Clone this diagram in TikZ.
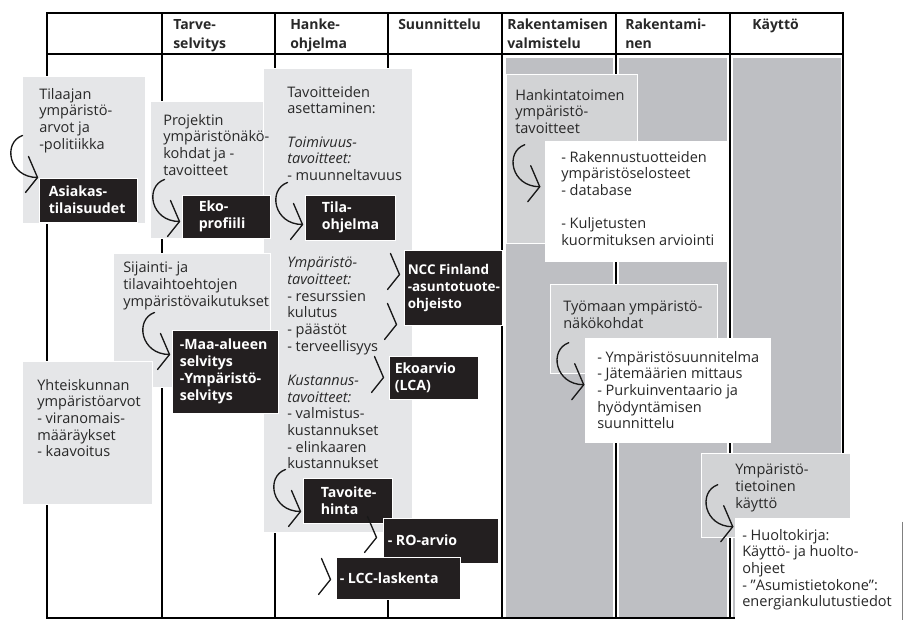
\documentclass[tikz,border=0pt]{standalone}
\usepackage{fontspec}
\setmainfont{Open Sans}
\usetikzlibrary{fit,calc}
\definecolor{colgray}{RGB}{190,191,195}
\definecolor{lgray}{RGB}{229,230,232}
\definecolor{mgray}{RGB}{210,211,213}
\definecolor{bfill}{RGB}{35,31,32}
\definecolor{txtc}{RGB}{40,40,40}
\tikzset{
 boxL/.style={fill=lgray, draw=white, line width=0.75pt, inner sep=0pt},
 boxM/.style={fill=mgray, draw=white, line width=0.75pt, inner sep=0pt},
 boxW/.style={fill=white, draw=none, inner sep=0pt},
 boxB/.style={fill=bfill, draw=white, line width=0.75pt, inner sep=0pt},
 colfill/.style={fill=colgray, draw=none, inner sep=0pt},
 bodytxt/.style={inner sep=0pt, anchor=north west, align=left, text=txtc, font=\fontsize{10.9}{12.5}\selectfont},
 headtxt/.style={inner sep=0pt, anchor=north west, align=left, text=txtc, font=\bfseries\fontsize{10.5}{14.25}\selectfont},
 btxt/.style={inner sep=0pt, anchor=west, align=left, text=white, font=\bfseries\fontsize{10.6}{12.75}\selectfont},
 tline/.style={draw=black, line width=0.9pt},
 edgeln/.style={draw=black!50, line width=0.6pt},
 hookln/.style={draw=black!90, line width=1pt, line cap=round, line join=round},
 hookarrow/.pic={\draw[hookln] (-15,-42) .. controls (-35,-35) and (-29,0) .. (0,0);
                 \draw[hookln] (-9,-21) -- (0,0) -- (-12,15);},
 chev/.pic={\draw[hookln] (-9,-21) -- (0,0) -- (-12,15);},
}
\begin{document}
\begin{tikzpicture}[x=0.75pt,y=-0.75pt]
\useasboundingbox (0,0) rectangle (909,624);
% column fills
\node[colfill, fit={(506,58) (613,617)}] (c1) {};
\node[colfill, fit={(619,58) (727,617)}] (c2) {};
\node[colfill, fit={(733,58) (841,617)}] (c3) {};
% table
\draw[tline] (47,13) rectangle (843,618);
\draw[tline] (47,54) -- (843,54);
\foreach \x in {162,275,388,502,616,730} \draw[tline] (\x,13) -- (\x,618);
% headers
\node[headtxt] (h1) at (173,19) {Tarve-\\selvitys};
\node[headtxt] (h2) at (290,19) {Hanke-\\ohjelma};
\node[headtxt] (h3) at (398,19) {Suunnittelu};
\node[headtxt] (h4) at (507,19) {Rakentamisen\\valmistelu};
\node[headtxt] (h5) at (625,19) {Rakentami-\\nen};
\node[headtxt] (h6) at (752,19) {Käyttö};
% gray boxes
\node[boxL, fit={(22,77) (145,223)}] (tilaajaB) {};
\node[boxL, fit={(150,102) (275,238)}] (projB) {};
\node[boxL, fit={(263,69) (412,532)}] (tavB) {};
\node[boxL, fit={(113,253) (270,387)}] (sijB) {};
\node[boxL, fit={(22,361) (152,504)}] (yhtB) {};
\node[boxM, fit={(506,75) (637,243)}] (hankB) {};
\node[boxW, fit={(545,141) (727,262)}] (w1) {};
\node[boxM, fit={(550,284) (717,373)}] (tyoB) {};
\node[boxW, fit={(585,338) (771,443)}] (w2) {};
\node[boxM, fit={(701,453) (850,537)}] (kayB) {};
\node[boxW, fit={(735,518) (902,624)}] (w3) {};
\draw[edgeln] ($(w3.north east)+(0,4)$) -- ($(w3.south east)+(0,-4)$);
% body texts
\node[bodytxt] (t1) at (39,88) {Tilaajan\\ympäristö-\\arvot ja\\-politiikka};
\node[bodytxt] (t2) at (163,114) {Projektin\\ympäristönäkö-\\kohdat ja -\\tavoitteet};
\node[bodytxt] (t3) at (287,86) {Tavoitteiden\\asettaminen:\\[12.5pt]\textit{Toimivuus-}\\\textit{tavoitteet:}\\- muunneltavuus};
\node[bodytxt] (t4) at (287,257) {\textit{Ympäristö-}\\\textit{tavoitteet:}\\- resurssien\\kulutus\\- päästöt\\- terveellisyys};
\node[bodytxt] (t5) at (287,375) {\textit{Kustannus-}\\\textit{tavoitteet:}\\- valmistus-\\kustannukset\\- elinkaaren\\kustannukset};
\node[bodytxt] (t6) at (123,262) {Sijainti- ja\\tilavaihtoehtojen\\ympäristövaikutukset};
\node[bodytxt] (t7) at (37,379) {Yhteiskunnan\\ympäristöarvot\\- viranomais-\\määräykset\\- kaavoitus};
\node[bodytxt] (t8) at (515,89) {Hankintatoimen\\ympäristö-\\tavoitteet};
\node[bodytxt] (t9) at (561,151) {- Rakennustuotteiden\\ympäristöselosteet\\- database\\[12.5pt]- Kuljetusten\\kuormituksen arviointi};
\node[bodytxt] (t10) at (563,301) {Työmaan ympäristö-\\näkökohdat};
\node[bodytxt] (t11) at (597,351) {- Ympäristösuunnitelma\\- Jätemäärien mittaus\\- Purkuinventaario ja\\hyödyntämisen\\suunnittelu};
\node[bodytxt] (t12) at (735,464) {Ympäristö-\\tietoinen\\käyttö};
\node[bodytxt] (t13) at (742,529) {- Huoltokirja:\\Käyttö- ja huolto-\\ohjeet\\- ”Asumistietokone”:\\energiankulutustiedot};
% black boxes
\node[boxB, fit={(39,178) (137,222)}] (asiB) {};
\node[boxB, fit={(182,195) (270,238)}] (ekoB) {};
\node[boxB, fit={(305,195) (395,240)}] (tilaB) {};
\node[boxB, fit={(172,330) (278,413)}] (maaB) {};
\node[boxB, fit={(404,250) (502,325)}] (nccB) {};
\node[boxB, fit={(389,356) (478,399)}] (lcaB) {};
\node[boxB, fit={(303,478) (392,523)}] (hinB) {};
\node[boxB, fit={(383,518) (498,563)}] (roB) {};
\node[boxB, fit={(336,557) (460,599)}] (lccB) {};
\node[btxt] (b1) at ($(asiB.west)+(10,0)$) {Asiakas-\\tilaisuudet};
\node[btxt] (b2) at ($(ekoB.west)+(17,0)$) {Eko-\\profiili};
\node[btxt] (b3) at ($(tilaB.west)+(17,0)$) {Tila-\\ohjelma};
\node[btxt] (b4) at ($(maaB.west)+(8,0)$) {-Maa-alueen\\selvitys\\-Ympäristö-\\selvitys};
\node[btxt, font=\bfseries\fontsize{10.1}{12.75}\selectfont] (b5) at ($(nccB.west)+(4,0)$) {NCC Finland\\-asuntotuote-\\ohjeisto};
\node[btxt] (b6) at ($(lcaB.west)+(6,0)$) {Ekoarvio\\(LCA)};
\node[btxt] (b7) at ($(hinB.west)+(18,0)$) {Tavoite-\\hinta};
\node[btxt] (b8) at ($(roB.west)+(5,0)$) {- RO-arvio};
\node[btxt] (b9) at ($(lccB.west)+(4,0)$) {- LCC-laskenta};
% hook arrows
\coordinate (k1) at ($(asiB.north west)+(-1,0)$);
\coordinate (k2) at ($(ekoB.north west)+(-2,27)$);
\coordinate (k3) at ($(tilaB.north west)+(-2,30)$);
\coordinate (k4) at ($(maaB.north west)+(-2,25)$);
\coordinate (k5) at ($(hinB.north west)+(-2,34)$);
\coordinate (k6) at ($(w1.north west)+(-5,46)$);
\coordinate (k7) at ($(w2.north west)+(-1,47)$);
\coordinate (k8) at ($(w3.north west)+(-2,9)$);
\foreach \k in {k1,k2,k3,k4,k5,k6,k7,k8} \pic at (\k) {hookarrow};
% chevrons
\coordinate (v1) at ($(nccB.north west)+(-4,25)$);
\coordinate (v2) at ($(nccB.north west)+(-7,75)$);
\coordinate (v3) at ($(lcaB.north west)+(-5,22)$);
\coordinate (v4) at ($(roB.north west)+(-6,20)$);
\coordinate (v5) at ($(lccB.north west)+(-5,23)$);
\foreach \v in {v1,v2,v3,v4,v5} \pic at (\v) {chev};
\end{tikzpicture}
\end{document}
